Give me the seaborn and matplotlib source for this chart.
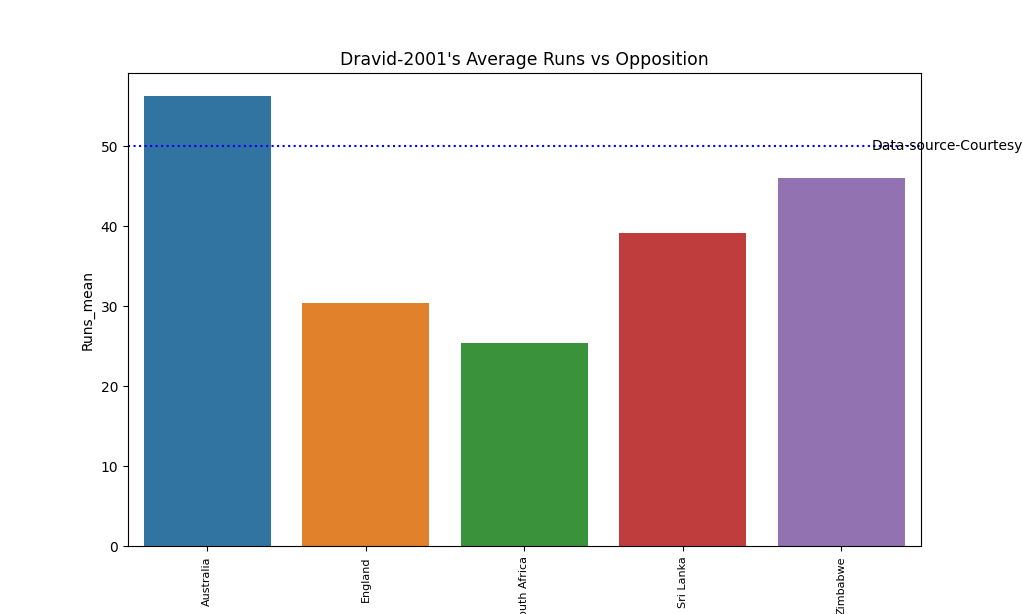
import matplotlib
matplotlib.use("Agg")
import matplotlib.pyplot as plt
import seaborn as sns
import pandas as pd

opposition = ["Australia", "England", "South Africa", "Sri Lanka", "Zimbabwe"]
runs_mean = [56.3, 30.45, 25.45, 39.1, 45.95]

df = pd.DataFrame({"Opposition": opposition, "Runs_mean": runs_mean})

fig, ax = plt.subplots(figsize=(10.23, 6.14), dpi=100)
fig.subplots_adjust(left=0.125, right=0.9, top=0.881, bottom=0.11)
sns.barplot(data=df, x="Opposition", y="Runs_mean", hue="Opposition",
            legend=False, ax=ax)
ax.axhline(50, color="blue", linestyle=":")
ax.text(4.19, 50, "Data-source-Courtesy", va="center", fontsize=10)
ax.set_title("Dravid-2001's Average Runs vs Opposition", fontsize=12.4)
ax.set_xlabel("")
ax.set_ylabel("Runs_mean")
plt.setp(ax.get_xticklabels(), rotation=90, fontsize=8)
fig.savefig("out.png", dpi=100)
